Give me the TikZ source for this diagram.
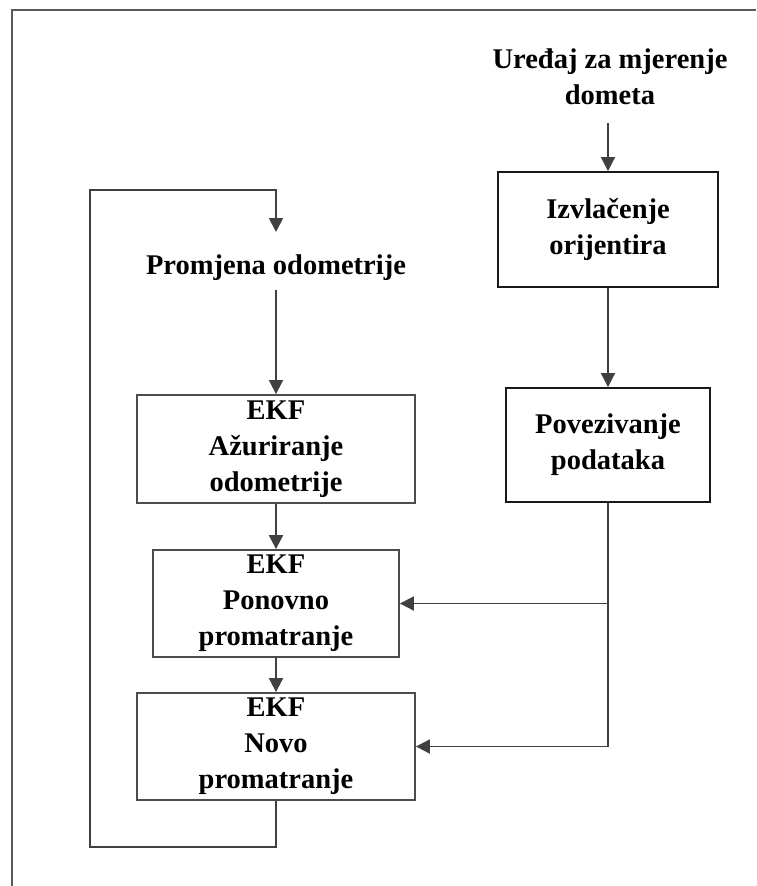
\documentclass[tikz,border=0pt]{standalone}
\usepackage{fontspec}
\setmainfont{Liberation Serif}
\usetikzlibrary{arrows.meta}
\begin{document}
\begin{tikzpicture}[x=1pt,y=-1pt,
  txt/.style={font=\fontsize{28.5}{36}\selectfont\bfseries, align=center, inner sep=0pt},
  ekfbox/.style={txt, draw=black!70, line width=1.8pt},
  rbox/.style={txt, draw=black!90, line width=1.8pt},
  conn/.style={draw=black!75, line width=1.8pt},
  arr/.style={conn, -{Triangle[length=14pt,width=14pt]}}]
\useasboundingbox (0,0) rectangle (756,886);
\draw[draw=black!65, line width=1.8pt] (12,886) -- (12,10) -- (756,10);

\node[txt] (prom) at (276,268) {Promjena odometrije};
\node[txt] (ured) at (610,77) {Uređaj za mjerenje\\dometa};

\node[ekfbox, minimum width=278pt, minimum height=108pt] (b1) at (276,449) {EKF\\Ažuriranje\\odometrije};
\node[ekfbox, minimum width=246pt, minimum height=107pt] (b2) at (276,603.5) {EKF\\Ponovno\\promatranje};
\node[ekfbox, minimum width=278pt, minimum height=107pt] (b3) at (276,746.5) {EKF\\Novo\\promatranje};

\node[rbox, minimum width=220pt, minimum height=115pt] (izv) at (608,229.5) {Izvlačenje\\orijentira};
\node[rbox, minimum width=204pt, minimum height=114pt] (pov) at (608,445) {Povezivanje\\podataka};

\coordinate (lb) at (90,847);
\coordinate (rt) at (276,190);
\coordinate (at) at (276,232);
\coordinate (ps) at (276,290);
\coordinate (us) at (608,123);

\draw[arr] (b3.south) |- (lb) |- (rt) -- (at);
\draw[arr] (ps) -- (b1.north);
\draw[arr] (b1.south) -- (b2.north);
\draw[arr] (b2.south) -- (b3.north);
\draw[arr] (us) -- (izv.north);
\draw[arr] (izv.south) -- (pov.north);
\draw[arr] (pov.south) |- (b2.east);
\draw[arr] (pov.south) |- (b3.east);
\end{tikzpicture}
\end{document}
